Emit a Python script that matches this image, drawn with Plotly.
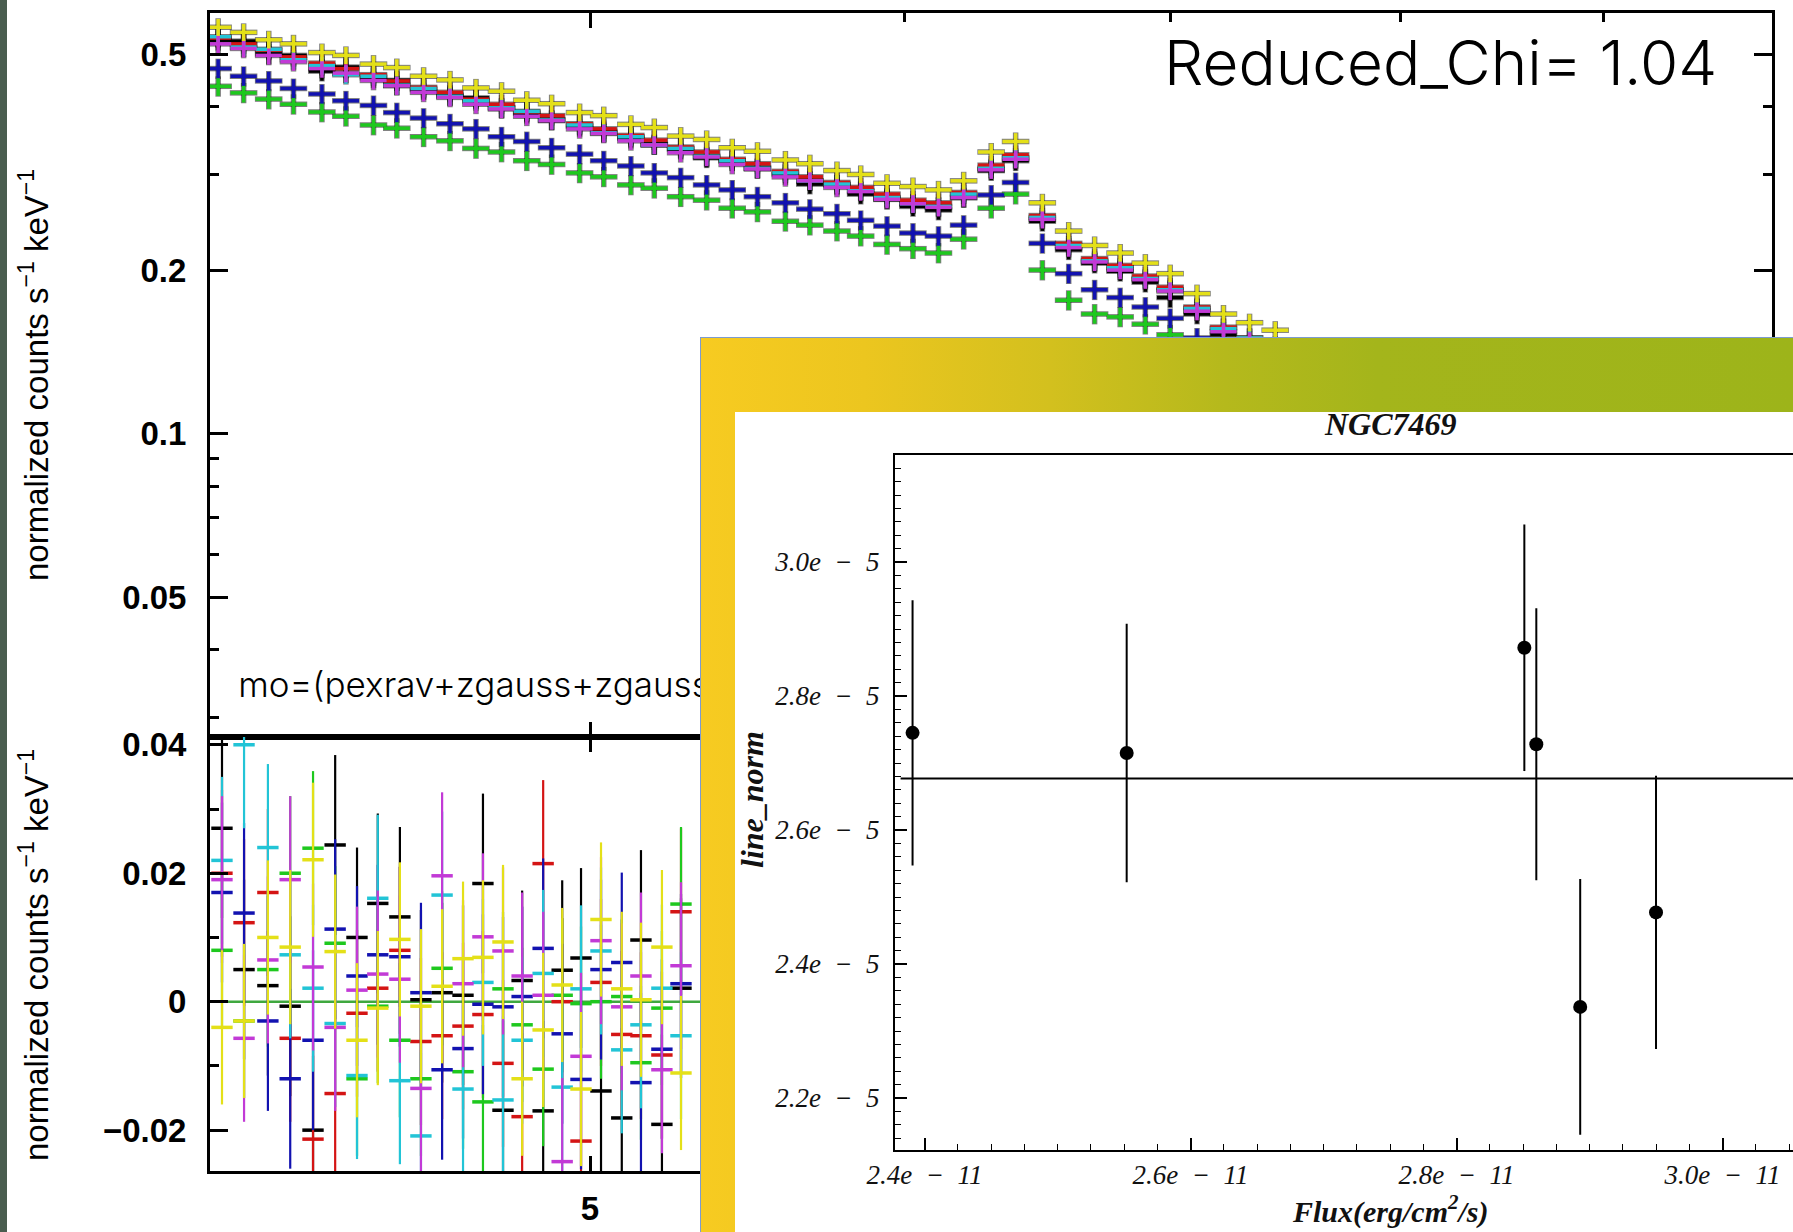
import plotly.graph_objects as go

W, H = 1793, 1232


def px(x):
    return x / W


def py(y):
    return 1 - y / H


# ---------------- data ----------------
series_names = ["black", "red", "green", "blue", "cyan", "magenta", "yellow"]
series_colors = ["#000000", "#d41414", "#1ec81e", "#1212b0", "#22c4d6", "#c23ad6", "#e4e018"]

# folded spectra (normalized counts s^-1 keV^-1)
spec_energy = [4.03, 4.09, 4.15, 4.21, 4.28, 4.34, 4.41, 4.47, 4.54, 4.61,
               4.68, 4.75, 4.82, 4.89, 4.97, 5.04, 5.12, 5.19, 5.27, 5.35,
               5.43, 5.51, 5.60, 5.68, 5.77, 5.85, 5.94, 6.03, 6.12, 6.21,
               6.31, 6.40, 6.50, 6.60, 6.70, 6.80, 6.90, 7.00, 7.11, 7.22,
               7.33, 7.44]
spec_black = [0.530, 0.528, 0.500, 0.497, 0.465, 0.473, 0.452, 0.447, 0.430, 0.420,
              0.415, 0.398, 0.389, 0.378, 0.368, 0.360, 0.350, 0.341, 0.334, 0.322,
              0.318, 0.308, 0.300, 0.288, 0.287, 0.276, 0.270, 0.262, 0.258, 0.272,
              0.305, 0.318, 0.246, 0.218, 0.206, 0.199, 0.190, 0.178, 0.166, 0.152,
              0.146, 0.140]
spec_red = [0.535, 0.522, 0.508, 0.494, 0.481, 0.470, 0.458, 0.446, 0.434, 0.425,
            0.413, 0.404, 0.391, 0.385, 0.372, 0.364, 0.354, 0.347, 0.337, 0.330,
            0.320, 0.314, 0.304, 0.297, 0.290, 0.284, 0.276, 0.269, 0.266, 0.278,
            0.312, 0.326, 0.252, 0.224, 0.210, 0.204, 0.195, 0.186, 0.171, 0.157,
            0.150, 0.145]
spec_green = [0.436, 0.424, 0.413, 0.404, 0.391, 0.384, 0.370, 0.365, 0.352, 0.346,
              0.335, 0.330, 0.318, 0.313, 0.302, 0.297, 0.287, 0.283, 0.273, 0.269,
              0.260, 0.256, 0.246, 0.242, 0.236, 0.231, 0.223, 0.219, 0.215, 0.228,
              0.260, 0.276, 0.200, 0.176, 0.166, 0.164, 0.159, 0.152, 0.140, 0.128,
              0.124, 0.120]
spec_blue = [0.470, 0.455, 0.446, 0.432, 0.422, 0.410, 0.402, 0.390, 0.381, 0.372,
             0.364, 0.352, 0.345, 0.336, 0.327, 0.318, 0.311, 0.302, 0.296, 0.287,
             0.281, 0.273, 0.266, 0.259, 0.254, 0.247, 0.241, 0.234, 0.231, 0.242,
             0.275, 0.290, 0.224, 0.197, 0.184, 0.178, 0.171, 0.163, 0.150, 0.138,
             0.133, 0.128]
spec_cyan = [0.538, 0.515, 0.510, 0.488, 0.476, 0.458, 0.455, 0.438, 0.432, 0.418,
             0.410, 0.398, 0.392, 0.378, 0.370, 0.358, 0.352, 0.340, 0.335, 0.324,
             0.318, 0.308, 0.302, 0.292, 0.288, 0.280, 0.272, 0.265, 0.262, 0.276,
             0.308, 0.322, 0.250, 0.222, 0.208, 0.202, 0.193, 0.184, 0.170, 0.156,
             0.150, 0.144]
spec_magenta = [0.522, 0.512, 0.497, 0.484, 0.470, 0.461, 0.447, 0.437, 0.425, 0.416,
                0.404, 0.396, 0.384, 0.377, 0.364, 0.357, 0.346, 0.340, 0.329, 0.323,
                0.313, 0.307, 0.297, 0.292, 0.284, 0.279, 0.270, 0.265, 0.261, 0.272,
                0.306, 0.320, 0.248, 0.220, 0.207, 0.200, 0.192, 0.183, 0.168, 0.154,
                0.148, 0.143]
spec_yellow = [0.560, 0.548, 0.531, 0.522, 0.503, 0.497, 0.479, 0.472, 0.455, 0.448,
               0.433, 0.427, 0.411, 0.405, 0.390, 0.385, 0.371, 0.366, 0.353, 0.348,
               0.336, 0.331, 0.319, 0.314, 0.305, 0.300, 0.289, 0.285, 0.281, 0.292,
               0.330, 0.345, 0.266, 0.236, 0.222, 0.215, 0.206, 0.197, 0.181, 0.166,
               0.160, 0.155]
spec_err_pct = [4.0, 3.8, 4.0, 4.0, 3.8, 3.8, 3.6]

# residuals (data - model)
res_energy = [4.039, 4.091, 4.148, 4.202, 4.258, 4.313, 4.368, 4.421, 4.478, 4.533,
              4.589, 4.645, 4.699, 4.754, 4.807, 4.866, 4.920, 4.974, 5.032, 5.093,
              5.150, 5.213, 5.271]
res_black = [0.027, 0.005, 0.0025, -0.0007, -0.020, 0.0244, 0.010, 0.0153, 0.0132, 0.0003,
             0.0014, 0.001, 0.0184, -0.0169, 0.0033, -0.017, 0.0049, 0.0068, -0.0139, -0.0181,
             0.0096, -0.0191, 0.0021]
res_red = [0.020, 0.0123, 0.017, -0.0057, -0.0214, -0.0143, -0.0018, 0.0021, 0.008, -0.0062,
           -0.0053, -0.0038, -0.002, -0.0096, -0.0179, 0.0215, 0.0, -0.0217, 0.003, -0.0051,
           -0.0053, -0.0083, 0.014]
res_green = [0.008, -0.003, 0.005, 0.020, 0.0239, 0.0091, -0.012, -0.0007, -0.006, -0.012,
             0.0052, -0.0109, -0.0156, 0.002, -0.0036, -0.0105, 0.001, -0.0003, 0.0, 0.0008,
             -0.0095, -0.001, 0.0152]
res_blue = [0.017, 0.0138, -0.003, -0.012, -0.006, 0.0113, 0.004, 0.0073, 0.007, 0.0014,
            -0.0106, -0.0073, -0.0004, -0.0008, 0.0008, 0.0083, -0.005, -0.0121, 0.005, 0.0061,
            -0.0126, -0.0074, 0.0028]
res_cyan = [0.022, 0.040, 0.024, 0.0073, 0.0021, -0.0034, -0.0115, 0.0161, -0.0123, -0.0209,
            0.0166, -0.0136, 0.003, -0.0153, -0.006, 0.0044, -0.0133, 0.002, 0.0079, -0.0075,
            -0.0036, 0.0021, -0.0053]
res_magenta = [0.019, -0.0057, 0.0065, 0.019, 0.0054, -0.004, 0.0018, 0.0043, 0.0035, -0.0135,
               0.0196, 0.0028, 0.0101, 0.0079, 0.004, 0.001, -0.0249, -0.0085, 0.0095, -0.0008,
               0.004, -0.0106, 0.0056]
res_yellow = [-0.004, -0.003, 0.010, 0.0085, 0.0221, 0.0078, -0.006, -0.001, 0.0097, -0.0007,
              0.0024, 0.0067, 0.0069, 0.0093, -0.012, -0.0044, 0.0026, -0.0136, 0.0128, 0.002,
              0.0003, 0.0085, -0.0111]
res_err = [0.014, 0.013, 0.012, 0.014, 0.013, 0.013, 0.012]

# inset: line normalisation vs flux
flux = [2.391e-11, 2.552e-11, 2.851e-11, 2.860e-11, 2.893e-11, 2.950e-11]
line_norm = [2.745e-5, 2.715e-5, 2.872e-5, 2.728e-5, 2.336e-5, 2.477e-5]
line_norm_err = [0.198e-5, 0.193e-5, 0.184e-5, 0.203e-5, 0.191e-5, 0.204e-5]
line_norm_fit = 2.677e-5

flux_ticks = [2.4e-11, 2.6e-11, 2.8e-11, 3.0e-11]
flux_ticklabels = ["2.4e\u2002\u2212\u200211", "2.6e\u2002\u2212\u200211",
                   "2.8e\u2002\u2212\u200211", "3.0e\u2002\u2212\u200211"]
norm_ticks = [2.2e-5, 2.4e-5, 2.6e-5, 2.8e-5, 3.0e-5]
norm_ticklabels = ["2.2e\u2002\u2212\u20025", "2.4e\u2002\u2212\u20025", "2.6e\u2002\u2212\u20025",
                   "2.8e\u2002\u2212\u20025", "3.0e\u2002\u2212\u20025"]

spec_series = [spec_black, spec_red, spec_green, spec_blue, spec_cyan, spec_magenta, spec_yellow]
res_series = [res_black, res_red, res_green, res_blue, res_cyan, res_magenta, res_yellow]

E_RANGE = [4.009, 9.925]

fig = go.Figure()

# ---------------- upper panel: spectra ----------------
# dark halo under the crosses (as in the scanned XSPEC plot)
for vals, ep in zip(spec_series, spec_err_pct):
    fig.add_trace(go.Scatter(
        x=spec_energy, y=vals, mode="markers",
        marker=dict(size=1, color="rgba(0,0,0,0)"),
        error_x=dict(type="percent", value=0.80, color="rgba(20,20,20,0.55)", thickness=5.5, width=0),
        error_y=dict(type="percent", value=ep + 0.3, color="rgba(20,20,20,0.55)", thickness=5.5, width=0),
        xaxis="x", yaxis="y", showlegend=False, hoverinfo="skip"))
for name, col, vals, ep in zip(series_names, series_colors, spec_series, spec_err_pct):
    fig.add_trace(go.Scatter(
        x=spec_energy, y=vals, mode="markers", name=name,
        marker=dict(size=2, color=col),
        error_x=dict(type="percent", value=0.76, color=col, thickness=3.5, width=0),
        error_y=dict(type="percent", value=ep, color=col, thickness=3.5, width=0),
        xaxis="x", yaxis="y", showlegend=False, hoverinfo="skip"))

fig.add_trace(go.Scatter(
    x=[4.077], y=[0.0339], mode="text", text=["mo=(pexrav+zgauss+zgauss)"],
    textposition="middle right",
    textfont=dict(family="Inter", size=35, color="black", weight=300),
    xaxis="x", yaxis="y", showlegend=False, hoverinfo="skip"))

# ---------------- lower panel: residuals ----------------
fig.add_trace(go.Scatter(
    x=E_RANGE, y=[0, 0], mode="lines", line=dict(color="#3fa83f", width=2.5),
    xaxis="x2", yaxis="y2", showlegend=False, hoverinfo="skip"))
for name, col, vals, er in zip(series_names, series_colors, res_series, res_err):
    fig.add_trace(go.Scatter(
        x=res_energy, y=vals, mode="markers", name=name + " res",
        marker=dict(size=2, color=col),
        error_x=dict(type="percent", value=0.62, color=col, thickness=3.5, width=0),
        error_y=dict(type="constant", value=er, color=col, thickness=2.2, width=0),
        xaxis="x2", yaxis="y2", showlegend=False, hoverinfo="skip"))

# ---------------- inset background (slide frame) ----------------
xl = (735 - 700) / (W - 700)
yb = (H - 412) / (H - 337)
fig.add_trace(go.Scatter(
    x=[0, 1, 1, 0, 0], y=[0, 0, 1, 1, 0], mode="lines", fill="toself",
    fillcolor="white", line=dict(width=0, color="white"),
    xaxis="x3", yaxis="y3", showlegend=False, hoverinfo="skip"))
fig.add_trace(go.Scatter(
    x=[0, 0, 1, 1, xl, xl, 0], y=[0, 1, 1, yb, yb, 0, 0], mode="lines", fill="toself",
    fillgradient=dict(type="horizontal",
                      colorscale=[[0, "#f7cb21"], [0.15, "#ecc61f"], [0.32, "#d3c01e"],
                                  [0.48, "#b5b91c"], [0.62, "#a4b51b"], [1, "#9db41a"]]),
    line=dict(width=0, color="rgba(0,0,0,0)"),
    xaxis="x3", yaxis="y3", showlegend=False, hoverinfo="skip"))
fig.add_trace(go.Scatter(
    x=[0, 0, 1], y=[0, 1, 1], mode="lines", line=dict(color="#7d9bcf", width=2),
    xaxis="x3", yaxis="y3", showlegend=False, hoverinfo="skip"))

# ---------------- inset plot ----------------
fig.add_trace(go.Scatter(
    x=[2.382e-11, 3.1e-11], y=[line_norm_fit, line_norm_fit], mode="lines",
    line=dict(color="black", width=2),
    xaxis="x4", yaxis="y4", showlegend=False, hoverinfo="skip"))
fig.add_trace(go.Scatter(
    x=flux, y=line_norm, mode="markers",
    marker=dict(size=14, color="black"),
    error_y=dict(type="data", array=line_norm_err, color="black", thickness=2, width=0),
    xaxis="x4", yaxis="y4", showlegend=False, hoverinfo="skip"))

# ---------------- axes ----------------
bold_tick = dict(family="Liberation Sans", size=33, color="black", weight="bold")
serif_tick = dict(family="Liberation Serif", size=27, color="#111111", style="italic")

common_x = dict(type="log", range=[0.60325, 0.99670], domain=[px(210), px(1772)],
                showline=True, linecolor="black", linewidth=3, mirror="ticks",
                ticks="inside", ticklen=15, tickwidth=3, tickcolor="black",
                tickvals=[5], showgrid=False, zeroline=False, automargin=False,
                minor=dict(tickvals=[6, 7, 8, 9], ticks="inside", ticklen=9,
                           tickwidth=2.5, tickcolor="black"))

fig.update_layout(
    width=W, height=H, margin=dict(l=0, r=0, t=0, b=0, pad=0, autoexpand=False),
    paper_bgcolor="white", plot_bgcolor="white", showlegend=False,
    xaxis=dict(common_x, anchor="y", showticklabels=False),
    yaxis=dict(type="log", range=[-1.55886, -0.22552], domain=[py(737), py(13)],
               anchor="x", showline=True, linecolor="black", linewidth=3, mirror="ticks",
               ticks="inside", ticklen=18, tickwidth=3, tickcolor="black",
               tickvals=[0.05, 0.1, 0.2, 0.5], ticktext=["0.05", "0.1", "0.2", "0.5"],
               tickfont=bold_tick, ticklabelstandoff=14, showgrid=False, zeroline=False,
               automargin=False,
               minor=dict(tickvals=[0.03, 0.04, 0.06, 0.07, 0.08, 0.09, 0.3, 0.4],
                          ticks="inside", ticklen=9, tickwidth=2.5, tickcolor="black")),
    xaxis2=dict(common_x, anchor="y2", ticktext=["5"], tickfont=bold_tick,
                ticklabelstandoff=6),
    yaxis2=dict(range=[-0.02636, 0.04121], domain=[py(1171), py(737)], anchor="x2",
                showline=True, linecolor="black", linewidth=3, mirror="ticks",
                ticks="inside", ticklen=18, tickwidth=3, tickcolor="black",
                tickvals=[-0.02, 0, 0.02, 0.04], ticktext=["\u22120.02", "0", "0.02", "0.04"],
                tickfont=bold_tick, ticklabelstandoff=14, showgrid=False, zeroline=False,
                automargin=False,
                minor=dict(tickvals=[-0.01, 0.01, 0.03], ticks="inside", ticklen=9,
                           tickwidth=2.5, tickcolor="black")),
    xaxis3=dict(range=[0, 1], domain=[px(700), 1], anchor="y3", visible=False,
                fixedrange=True, automargin=False),
    yaxis3=dict(range=[0, 1], domain=[0, py(337)], anchor="x3", visible=False,
                fixedrange=True, automargin=False),
    xaxis4=dict(range=[2.3778e-11, 3.053e-11], domain=[px(895), 1], anchor="y4",
                showline=True, linecolor="black", linewidth=2, mirror=True,
                ticks="inside", ticklen=12, tickwidth=1.5, tickcolor="black",
                tickvals=flux_ticks, ticktext=flux_ticklabels,
                tickfont=serif_tick, ticklabelstandoff=0, showgrid=False, zeroline=False,
                automargin=False,
                minor=dict(tickvals=[2.4e-11 + k * 0.025e-11 for k in range(-1, 27)],
                           ticks="inside", ticklen=6, tickwidth=1, tickcolor="black")),
    yaxis4=dict(range=[2.1224e-5, 3.1597e-5], domain=[py(1150), py(455)], anchor="x4",
                showline=True, linecolor="black", linewidth=2, mirror=False,
                ticks="inside", ticklen=12, tickwidth=1.5, tickcolor="black",
                tickvals=norm_ticks, ticktext=norm_ticklabels,
                tickfont=serif_tick, ticklabelstandoff=8, showgrid=False, zeroline=False,
                automargin=False,
                minor=dict(tickvals=[2.14e-5 + k * 0.02e-5 for k in range(0, 51)],
                           ticks="inside", ticklen=6, tickwidth=1, tickcolor="black")),
)

# dark strip at the left edge of the slide
fig.add_shape(type="rect", xref="paper", yref="paper", x0=0, x1=px(7), y0=0, y1=1,
              fillcolor="#4a5d4f", line=dict(width=0), layer="below")


def label(x, y, text, font, angle=0):
    fig.add_annotation(x=px(x), y=py(y), xref="paper", yref="paper", text=text,
                       textangle=angle, showarrow=False, xanchor="center",
                       yanchor="middle", font=font)


ylab = "normalized counts s<sup>\u22121</sup> keV<sup>\u22121</sup>"
ylab_font = dict(family="Liberation Sans", size=33, color="black")
label(34, 375, ylab, ylab_font, -90)
label(34, 955, ylab, ylab_font, -90)
label(1440, 62, "Reduced_Chi= 1.04",
      dict(family="Inter", size=62, color="black", weight=300))
serif_title = dict(family="Liberation Serif", size=32, color="#111111")
label(1390, 424, "<b><i>NGC7469</i></b>", serif_title)
label(1390, 1209, "<b><i>Flux(erg/cm<sup>2</sup>/s)</i></b>",
      dict(family="Liberation Serif", size=30, color="#111111"))
label(752, 800, "<b><i>line_norm</i></b>", serif_title, -90)

fig.write_html("out.html", config={"displayModeBar": False},
               post_script="document.body.style.margin='0';document.body.style.overflow='hidden';")
